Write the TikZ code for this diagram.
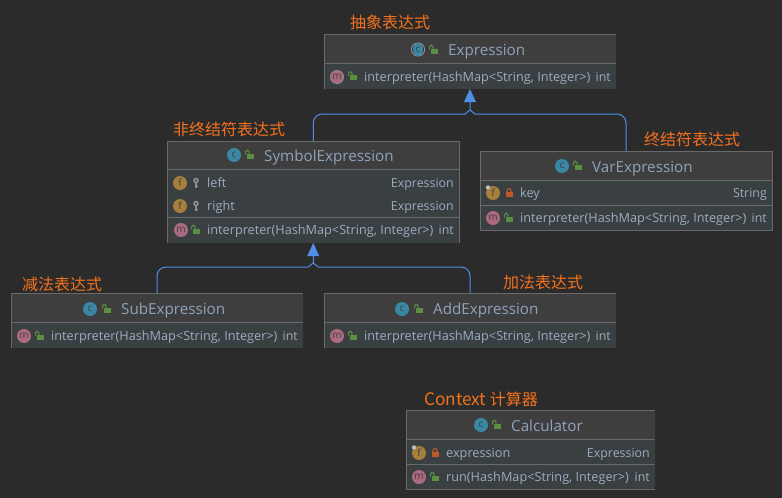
\documentclass[tikz,border=0pt]{standalone}
\usepackage{fontspec}
\setmainfont{Open Sans}
\newfontfamily\cjk{Noto Sans CJK SC}
\usetikzlibrary{calc,shapes.geometric}
\definecolor{bgc}{HTML}{2B2B2B}
\definecolor{hdrc}{HTML}{3E3E3E}
\definecolor{bodyc}{HTML}{3A3F42}
\definecolor{edgec}{HTML}{6A6A6A}
\definecolor{txtc}{HTML}{9CACBE}
\definecolor{ttlc}{HTML}{8FA3B9}
\definecolor{orangec}{HTML}{F4711E}
\definecolor{bluec}{HTML}{4F8FE6}
\definecolor{cic}{HTML}{3A87A5}
\definecolor{fic}{HTML}{A67F3C}
\definecolor{mic}{HTML}{AC6A80}
\definecolor{gric}{HTML}{5A8F42}
\definecolor{redic}{HTML}{BC5A2C}
\definecolor{keyc}{HTML}{8A9299}
\tikzset{
  boxbody/.style={fill=bodyc,draw=none,inner sep=0pt,outer sep=0pt},
  edgeline/.style={draw=edgec,line width=1pt},
  conn/.style={draw=bluec,line width=1pt},
  head/.style={fill=bluec,draw=none},
  title/.style={anchor=base west,inner sep=0pt,text=ttlc,font=\fontsize{15.2}{18}\selectfont},
  member/.style={anchor=base west,inner sep=0pt,text=txtc,font=\fontsize{12.7}{15}\selectfont},
  memtype/.style={anchor=base east,inner sep=0pt,text=txtc,font=\fontsize{12.4}{15}\selectfont},
  note/.style={anchor=base west,inner sep=0pt,text=orangec,font=\cjk\fontsize{16}{19}\selectfont},
  icon/.style={circle,inner sep=0pt,minimum size=14pt,text=black!75,font=\fontsize{10}{10}\selectfont},
  absicon/.style={ellipse,inner sep=0pt,minimum width=10pt,minimum height=13pt,text=black!75,font=\fontsize{10}{10}\selectfont},
  pics/openlock/.style={code={
    \fill[gric] (-2,-1.5) rectangle (4.5,3.5);
    \draw[gric,line width=1.1pt] (-3.4,-.5) -- (-3.4,-3.2) arc[start angle=180,end angle=360,radius=1.7] -- (0,-1.5);
  }},
  pics/redlock/.style={code={
    \fill[redic] (-3.5,-1) rectangle (3.5,4);
    \draw[redic,line width=1.1pt] (-2,-1) -- (-2,-2.5) arc[start angle=180,end angle=360,radius=2] -- (2,-1);
  }},
  pics/keyic/.style={code={
    \draw[keyc,line width=1.5pt] (0,-2.5) circle[radius=2];
    \draw[keyc,line width=1.5pt] (0,-.5) -- (0,4.5);
    \draw[keyc,line width=1pt] (0,3) -- (1.5,3);
  }},
  pics/pinmark/.style={code={
    \fill[white!75!black] (-5,-5.5) circle[radius=2.2];
  }},
  pics/absring/.style={code={
    \fill[white!60!black] (0,0) circle[radius=7];
    \fill[bgc!60!hdrc] (0,0) circle[radius=6];
  }}
}
\newcommand\classbox[6]{%
  \node[boxbody,minimum width={(#4-#2)*1pt},minimum height={(#5-#3)*1pt}] (#1) at ({(#2+#4)/2},{(#3+#5)/2}) {};
  \fill[hdrc] (#2,#3) rectangle (#4,#6);
}
\begin{document}
\begin{tikzpicture}[x=1pt,y=-1pt]
\useasboundingbox (0,0) rectangle (782,498);
\fill[bgc] (0,0) rectangle (782,498);

% class boxes
\classbox{expr}{324}{34}{616}{89}{63}
\classbox{sym}{167}{141}{459.5}{243}{169}
\classbox{var}{480}{151}{772}{230.5}{180}
\classbox{sub}{11}{293}{303}{348}{322}
\classbox{add}{324}{293}{616}{348}{322}
\classbox{calc}{406}{410}{655}{489.5}{439}

% borders
\draw[edgeline] (324.5,89) -- (324.5,34.5) -- (616,34.5);
\draw[edgeline] (324.5,63.5) -- (616,63.5);
\draw[edgeline] (167.5,243) -- (167.5,141.5) -- (459.5,141.5) -- (459.5,243);
\draw[edgeline] (167.5,169.5) -- (459.5,169.5);
\draw[edgeline] (167.5,217.5) -- (459.5,217.5);
\draw[edgeline] (480.5,151.5) rectangle (772,230.5);
\draw[edgeline] (480.5,180.5) -- (772,180.5);
\draw[edgeline] (480.5,205.5) -- (772,205.5);
\draw[edgeline] (11.5,348) -- (11.5,293.5) -- (303,293.5);
\draw[edgeline] (11.5,322.5) -- (303,322.5);
\draw[edgeline] (324.5,348) -- (324.5,293.5) -- (616,293.5);
\draw[edgeline] (324.5,322.5) -- (616,322.5);
\draw[edgeline] (655,410.5) -- (406.5,410.5) -- (406.5,489.5) -- (655,489.5);
\draw[edgeline] (406.5,439.5) -- (655,439.5);
\draw[edgeline] (406.5,464.5) -- (655,464.5);

% connectors
\coordinate (eTop) at ($(expr.south)+(0,13)$);
\coordinate (eFork) at ($(expr.south)+(0,21)$);
\coordinate (eL) at ($(expr.south)+(-5,25)$);
\coordinate (eR) at ($(expr.south)+(5,25)$);
\draw[conn,rounded corners=9pt] (sym.north) |- (eL);
\draw[conn,rounded corners=9pt] (var.north) |- (eR);
\draw[conn] (eL) -- (eFork) -- (eR) (eFork) -- (eTop);
\fill[head] (expr.south) -- ($(eTop)+(6,0)$) -- ($(eTop)+(-6,0)$) -- cycle;

\coordinate (sTop) at ($(sym.south)+(0,13)$);
\coordinate (sFork) at ($(sym.south)+(0,20)$);
\coordinate (sL) at ($(sym.south)+(-5,24)$);
\coordinate (sR) at ($(sym.south)+(5,24)$);
\draw[conn,rounded corners=9pt] (sub.north) |- (sL);
\draw[conn,rounded corners=9pt] (add.north) |- (sR);
\draw[conn] (sL) -- (sFork) -- (sR) (sFork) -- (sTop);
\fill[head] (sym.south) -- ($(sTop)+(6,0)$) -- ($(sTop)+(-6,0)$) -- cycle;

% Expression
\pic at (418,49.5) {absring};
\node[absicon,fill=cic] (exprC) at (418,49.5) {c};
\pic at (433,50) {openlock};
\node[title] (exprT) at (448,55.5) {Expression};
\pic at (337,77) {absring};
\node[absicon,fill=mic] (exprM) at (337,77) {m};
\pic at (352,76.5) {openlock};
\node[member] (exprI) at (364,81.5) {interpreter(HashMap<String, Integer>)};
\node[memtype] (exprR) at (611,81.5) {int};

% SymbolExpression
\node[icon,fill=cic] (symC) at (234,155) {c};
\pic at (249,155) {openlock};
\node[title] (symT) at (264,161) {SymbolExpression};
\node[icon,fill=fic] (symF1) at (180,183) {f};
\pic at (196,183) {keyic};
\node[member] (symL) at (207,187.5) {left};
\node[memtype] (symLT) at (454,187.5) {Expression};
\node[icon,fill=fic] (symF2) at (180,206) {f};
\pic at (196,206) {keyic};
\node[member] (symRi) at (207,210.5) {right};
\node[memtype] (symRT) at (454,210.5) {Expression};
\node[icon,fill=mic] (symM) at (181,230) {m};
\pic at (195,230) {openlock};
\node[member] (symI) at (207,234.5) {interpreter(HashMap<String, Integer>)};
\node[memtype] (symR) at (454,234.5) {int};

% VarExpression
\node[icon,fill=cic] (varC) at (562,166) {c};
\pic at (577,166) {openlock};
\node[title] (varT) at (592,172) {VarExpression};
\node[icon,fill=fic] (varF) at (493,193) {f};
\pic at (493,193) {pinmark};
\pic at (509,193) {redlock};
\node[member] (varK) at (520,197.5) {key};
\node[memtype] (varKT) at (767,197.5) {String};
\node[icon,fill=mic] (varM) at (493,218) {m};
\pic at (508,218) {openlock};
\node[member] (varI) at (520,222.5) {interpreter(HashMap<String, Integer>)};
\node[memtype] (varR) at (767,222.5) {int};

% SubExpression
\node[icon,fill=cic] (subC) at (90,309) {c};
\pic at (106,309) {openlock};
\node[title] (subT) at (121,314.5) {SubExpression};
\node[icon,fill=mic] (subM) at (24,336) {m};
\pic at (39,336) {openlock};
\node[member] (subI) at (51,340.5) {interpreter(HashMap<String, Integer>)};
\node[memtype] (subR) at (298,340.5) {int};

% AddExpression
\node[icon,fill=cic] (addC) at (402,309) {c};
\pic at (418,309) {openlock};
\node[title] (addT) at (433,314.5) {AddExpression};
\node[icon,fill=mic] (addM) at (337,336) {m};
\pic at (352,336) {openlock};
\node[member] (addI) at (364,340.5) {interpreter(HashMap<String, Integer>)};
\node[memtype] (addR) at (611,340.5) {int};

% Calculator
\node[icon,fill=cic] (calcC) at (481,425) {c};
\pic at (496,425) {openlock};
\node[title] (calcT) at (511,431) {Calculator};
\node[icon,fill=fic] (calcF) at (419,453) {f};
\pic at (419,453) {pinmark};
\pic at (435,453) {redlock};
\node[member] (calcE) at (446,457.5) {expression};
\node[memtype] (calcET) at (650,457.5) {Expression};
\node[icon,fill=mic] (calcM) at (419,477) {m};
\pic at (434,477) {openlock};
\node[member] (calcI) at (446,481.5) {run(HashMap<String, Integer>)};
\node[memtype] (calcR) at (650,481.5) {int};

% annotations
\node[note] (n1) at (350,28.5) {抽象表达式};
\node[note] (n2) at (173,135.5) {非终结符表达式};
\node[note] (n3) at (644,145.5) {终结符表达式};
\node[note] (n4) at (22,290.5) {减法表达式};
\node[note] (n5) at (503,288.5) {加法表达式};
\node[note] (n6) at (424,405.5) {{\fontsize{17.2}{19}\selectfont Context} 计算器};
\end{tikzpicture}
\end{document}
